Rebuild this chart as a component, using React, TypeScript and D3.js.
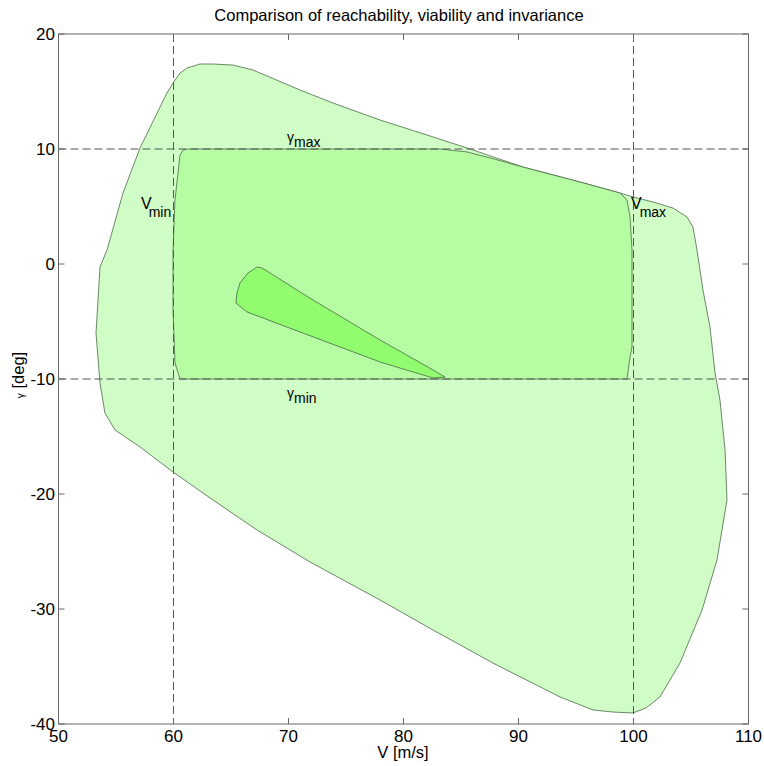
import React from "react";
import * as d3 from "d3";

// [V (m/s), gamma (deg)] outlines
const reachableSet: [number, number][] = [
  [59.96, 15.74], [60.57, 16.61], [61.17, 17.04], [62.3, 17.39], [63.43, 17.39],
  [65.17, 17.3], [66.91, 16.87], [71.0, 15.13], [73.87, 14.0], [77.96, 12.52],
  [82.04, 11.22], [85.52, 10.09], [90.39, 8.43], [95.35, 7.13], [98.83, 6.17],
  [99.96, 5.83], [101.7, 5.39], [103.43, 4.87], [104.65, 4.09], [105.17, 3.22],
  [105.52, 1.22], [106.04, -2.26], [106.65, -5.48], [107.09, -9.48], [107.52, -11.83],
  [107.96, -16.17], [108.13, -20.52], [107.26, -25.74], [105.96, -30.09], [104.04, -34.7],
  [102.3, -37.65], [101.1, -38.6], [99.96, -39.04], [98.2, -38.96], [96.48, -38.78],
  [93.61, -37.65], [87.78, -34.7], [82.57, -31.83], [77.96, -29.22], [71.87, -25.91],
  [67.26, -23.13], [63.43, -20.52], [59.96, -18.09], [57.09, -15.91], [54.91, -14.43],
  [54.04, -12.96], [53.61, -10.35], [53.26, -6.0], [53.35, -4.61], [53.61, -0.26],
  [54.22, 1.22], [55.61, 6.17], [57.09, 10.09], [58.83, 13.65], [59.43, 14.87],
];

const viableSet: [number, number][] = [
  [61.3, 10], [83.2, 10], [85.5, 9.75], [88.0, 9.1], [90.39, 8.43], [95.35, 7.13],
  [98.83, 6.17], [99.43, 5.57], [99.7, 4.09], [99.87, 1.22], [99.87, -7.22],
  [99.7, -8.09], [99.43, -10], [60.57, -10], [60.13, -8.61], [59.96, -4.0],
  [59.96, 1.22], [60.13, 5.57], [60.57, 9.48], [60.83, 9.91],
];

const invariantSet: [number, number][] = [
  [67.26, -0.26], [67.7, -0.35], [72.13, -3.13], [77.96, -6.61], [82.13, -8.96],
  [83.61, -9.83], [82.57, -9.91], [80.83, -9.39], [77.96, -8.52], [71.0, -5.91],
  [66.39, -4.17], [65.43, -3.39], [65.52, -2.52], [65.78, -1.65], [66.48, -0.78],
];

const vLimits = [60, 100];
const gammaLimits = [10, -10];
const vTicks = [50, 60, 70, 80, 90, 100, 110];
const gammaTicks = [20, 10, 0, -10, -20, -30, -40];

const W = 764;
const H = 766;
const left = 58.5;
const top = 34;
const size = 690;
const font = "'Liberation Sans', Arial, sans-serif";

export default function App() {
  const x = d3.scaleLinear().domain([50, 110]).range([left, left + size]);
  const y = d3.scaleLinear().domain([20, -40]).range([top, top + size]);
  const line = d3
    .line<[number, number]>()
    .x((d) => x(d[0]))
    .y((d) => y(d[1]))
    .curve(d3.curveLinearClosed);

  const edge = "#4a6a48";
  const axisCol = "#666";
  const dashCol = "#555";
  const tick = 6;

  return (
    <svg
      width={W}
      height={H}
      style={{ position: "absolute", left: 0, top: 0, background: "#fff" }}
      fontFamily={font}
    >
      <text x={399} y={21} fontSize={16.5} textAnchor="middle" fill="#000">
        Comparison of reachability, viability and invariance
      </text>

      <path d={line(reachableSet) ?? ""} fill="#d0fcc5" stroke={edge} strokeWidth={0.8} />
      <path d={line(viableSet) ?? ""} fill="#b5fca3" stroke={edge} strokeWidth={0.8} />
      <path d={line(invariantSet) ?? ""} fill="#91fc6e" stroke={edge} strokeWidth={0.8} />

      {vLimits.map((v) => (
        <line key={"v" + v} x1={x(v)} x2={x(v)} y1={top} y2={top + size}
          stroke={dashCol} strokeWidth={1} strokeDasharray="8,4" />
      ))}
      {gammaLimits.map((g) => (
        <line key={"g" + g} x1={left} x2={left + size} y1={y(g)} y2={y(g)}
          stroke={dashCol} strokeWidth={1} strokeDasharray="8,4" />
      ))}

      {/* limit labels */}
      <text x={287} y={142} fontSize={14} fill="#000">
        γ<tspan dy={5}>max</tspan>
      </text>
      <text x={287} y={398} fontSize={14} fill="#000">
        γ<tspan dy={5}>min</tspan>
      </text>
      <text x={141} y={208.5} fontSize={16} fill="#000">
        V<tspan fontSize={14} dy={8} dx={-3}>min</tspan>
      </text>
      <text x={631} y={209} fontSize={16} fill="#000">
        V<tspan fontSize={14} dy={8} dx={-2}>max</tspan>
      </text>

      {/* axes box */}
      <rect x={left} y={top} width={size} height={size} fill="none" stroke={axisCol} strokeWidth={1} />
      {vTicks.map((v) => (
        <g key={"xt" + v}>
          <line x1={x(v)} x2={x(v)} y1={top + size} y2={top + size - tick} stroke={axisCol} />
          <line x1={x(v)} x2={x(v)} y1={top} y2={top + tick} stroke={axisCol} />
          <text x={x(v)} y={742} fontSize={17} textAnchor="middle" fill="#000">{v}</text>
        </g>
      ))}
      {gammaTicks.map((g) => (
        <g key={"yt" + g}>
          <line x1={left} x2={left + tick} y1={y(g)} y2={y(g)} stroke={axisCol} />
          <line x1={left + size} x2={left + size - tick} y1={y(g)} y2={y(g)} stroke={axisCol} />
          <text x={55} y={y(g)} dy="0.36em" fontSize={17} textAnchor="end" fill="#000">{g}</text>
        </g>
      ))}

      <text x={403} y={758} fontSize={16.5} textAnchor="middle" fill="#000">V [m/s]</text>
      <text transform="translate(24,375) rotate(-90)" fontSize={16.5} textAnchor="middle" fill="#000">
        <tspan fontSize={10}>γ</tspan> [deg]
      </text>
    </svg>
  );
}
